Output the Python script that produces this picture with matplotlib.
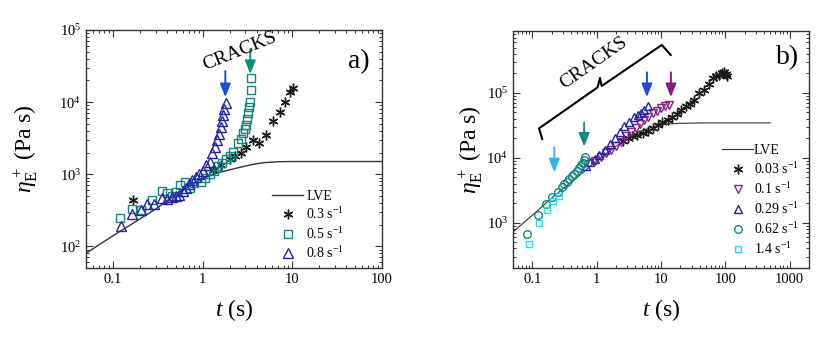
# Extensional viscosity growth, two panels with LVE envelope
import matplotlib.pyplot as plt

plt.rcParams['font.family'] = 'serif'
plt.rcParams['font.serif'] = ['Liberation Serif']
plt.rcParams['mathtext.fontset'] = 'custom'
plt.rcParams['mathtext.rm'] = 'Liberation Serif'
plt.rcParams['mathtext.it'] = 'Liberation Serif:italic'
plt.rcParams['mathtext.bf'] = 'Liberation Serif:bold'
plt.rcParams['mathtext.fallback'] = 'stix'

# ---- panel a data
lve_t_a = [0.05, 0.1, 0.2, 0.3, 0.5, 0.7, 1, 1.5, 2, 3, 4, 5, 7, 10, 100]
lve_eta_a = [80, 140, 240, 330, 520, 680, 880, 1050, 1150, 1300, 1400, 1450, 1490, 1500, 1500]

t_03 = [0.167, 1.3, 1.6, 2.0, 2.3, 2.7, 3.08, 3.65, 4.3, 5.15, 6.1, 7.25, 8.3, 9.4, 10.2]
eta_03 = [445, 1150, 1350, 1600, 1800, 2000, 2350, 2960, 2670, 3550, 5400, 7330, 10000, 14000, 15500]

t_05 = [0.119, 0.161, 0.203, 0.274, 0.354, 0.396, 0.45, 0.5, 0.56, 0.63, 0.716, 0.8, 0.95,
        1.05, 1.2, 1.35, 1.5, 1.65, 1.8, 2.0, 2.2, 2.48, 2.65, 2.82, 2.95, 3.02, 3.1, 3.2,
        3.28, 3.35, 3.42, 3.5]
eta_05 = [250, 330, 316, 445, 580, 557, 500, 560, 700, 782, 653, 760, 782,
          880, 1000, 1100, 1300, 1450, 1600, 1800, 2050, 2670, 3100, 3680, 4200, 4800, 5800, 6950,
          8500, 10100, 14700, 21300]

t_08 = [0.123, 0.164, 0.203, 0.241, 0.29, 0.354, 0.4, 0.45, 0.5, 0.544, 0.6, 0.646, 0.7, 0.767,
        0.84, 0.91, 1.0, 1.08, 1.2, 1.28, 1.37, 1.46, 1.53, 1.59, 1.65, 1.69, 1.75, 1.81]
eta_08 = [189, 284, 316, 392, 392, 475, 460, 480, 500, 510, 580, 653, 730, 825,
          920, 1020, 1100, 1330, 1500, 1940, 2400, 2960, 3600, 4540, 5500, 6600, 8000, 9800]

# crack onset arrows: (t, eta top, eta tip, colour)
cracks_a = [(1.79, 27000, 11700, '#1a4fd8'), (3.4, 54500, 24500, '#138a82')]

# ---- panel b data
lve_t_b = [0.05, 0.1, 0.2, 0.5, 1, 2, 3, 5, 8, 12, 20, 50, 500]
lve_eta_b = [720, 1300, 2400, 5000, 9000, 15000, 20000, 26000, 30500, 33000, 34000, 34500, 34500]

t_003 = [2.6, 3.05, 3.6, 4.3, 5.2, 6.2, 7.46, 9, 10.5, 12.7, 15, 17.5, 20.5, 24.5, 28, 33,
         39.4, 47, 55, 63.5, 72, 80, 88, 96, 102, 108]
eta_003 = [18000, 20200, 21500, 22500, 24000, 26000, 29000, 32000, 35000, 38400, 43000, 48000,
           54600, 62000, 68000, 77800, 100000, 110000, 135000, 167000, 180000, 190000, 200000,
           210000, 195000, 180000]

t_01 = [0.95, 1.15, 1.41, 1.7, 2.02, 2.4, 2.89, 3.4, 4.12, 4.8, 5.54, 6.4, 7.46, 8.7, 10.1, 11.7, 13.5]
eta_01 = [9000, 10200, 11900, 13300, 15000, 17800, 21400, 25000, 28700, 33500, 38400, 43000,
          48600, 53000, 58000, 62000, 65000]

t_029 = [0.69, 0.8, 0.93, 1.1, 1.33, 1.6, 1.9, 2.3, 2.7, 3.2, 3.88, 4.4, 4.93, 5.5, 6.25]
eta_029 = [7440, 8500, 9650, 11000, 13400, 16500, 20200, 25000, 30400, 36000, 43200, 45000,
           48600, 55000, 63000]

t_062 = [0.083, 0.122, 0.164, 0.203, 0.249, 0.285, 0.316, 0.345, 0.377, 0.41, 0.45, 0.49,
         0.54, 0.575, 0.607, 0.64, 0.668]
eta_062 = [660, 1290, 1910, 2500, 2990, 3500, 3910, 4300, 4780, 5150, 5560, 6300, 7040, 7700,
           8390, 9300, 10300]

t_14 = [0.088, 0.129, 0.17, 0.213, 0.258]
eta_14 = [464, 991, 1580, 2180, 2590]

cracks_b = [(0.22, 14400, 5970, '#2ab4ef'), (0.64, 34600, 14900, '#128a80'),
            (6.06, 208000, 86000, '#1a4fd8'), (14.3, 208000, 86000, '#8a1c8a')]

BLACK = '#1a1a1a'
TEAL = '#17857f'
BLUE = '#2222aa'
PURPLE = '#8b1f8b'
CYAN = '#22e0ee'

fig = plt.figure(figsize=(8.3, 3.39), dpi=100)
ax1 = fig.add_axes([0.1036, 0.2094, 0.3566, 0.7021])
ax2 = fig.add_axes([0.618, 0.2094, 0.3566, 0.6992])


def style_axes(ax, ypad):
    ax.set_xscale('log')
    ax.set_yscale('log')
    ax.tick_params(which='both', direction='in', top=True, right=True, labelsize=10.5,
                   color='#333333')
    ax.tick_params(which='major', length=5, width=0.8)
    ax.tick_params(which='minor', length=2.5, width=0.7)
    for s in ax.spines.values():
        s.set_linewidth(1.0)
        s.set_color('#333333')
    ax.set_xlabel(r'$t$ (s)', fontsize=17, labelpad=8)
    ax.set_ylabel(r'$\eta^+_{\rm E}$ (Pa s)', fontsize=17, labelpad=ypad)


def draw_arrows(ax, cracks):
    for t, top, tip, c in cracks:
        ax.annotate('', xy=(t, tip), xytext=(t, top),
                    arrowprops=dict(arrowstyle='-|>,head_width=0.32,head_length=0.8',
                                    color=c, lw=1.4, shrinkA=0, shrinkB=0))


mk = dict(linestyle='none', markerfacecolor='none', markeredgewidth=1.0)

# panel a
style_axes(ax1, 14)
ax1.plot(lve_t_a, lve_eta_a, color='#333333', lw=1.0, label='LVE')
ax1.plot(t_03, eta_03, marker=(6, 2, 0), ms=7, color=BLACK, label=r'0.3 s$^{-1}$', **mk)
ax1.plot(t_05, eta_05, marker='s', ms=5.5, color=TEAL, label=r'0.5 s$^{-1}$', **mk)
ax1.plot(t_08, eta_08, marker='^', ms=6.5, color=BLUE, label=r'0.8 s$^{-1}$', **mk)
ax1.set_xlim(0.05, 100)
ax1.set_ylim(50, 1e5)
ax1.set_xticks([0.1, 1, 10, 100])
ax1.set_xticklabels(['0.1', '1', '10', '100'])
draw_arrows(ax1, cracks_a)
ax1.text(0.52, 0.912, 'CRACKS', transform=ax1.transAxes, fontsize=14, rotation=22,
         ha='center', va='center', rotation_mode='anchor')
ax1.text(0.922, 0.866, 'a)', transform=ax1.transAxes, fontsize=20, ha='center', va='center')
ax1.legend(loc='lower left', bbox_to_anchor=(0.63, 0.03), frameon=False, fontsize=10,
           handlelength=2.2, handletextpad=0.25, labelspacing=0.25, borderpad=0,
           borderaxespad=0)

# panel b
style_axes(ax2, 1)
ax2.plot(lve_t_b, lve_eta_b, color='#333333', lw=0.8, label='LVE')
ax2.plot(t_003, eta_003, marker=(6, 2, 0), ms=7, color=BLACK, label=r'0.03 s$^{-1}$', **mk)
ax2.plot(t_01, eta_01, marker='v', ms=6, color=PURPLE, label=r'0.1 s$^{-1}$', **mk)
ax2.plot(t_029, eta_029, marker='^', ms=6, color=BLUE, label=r'0.29 s$^{-1}$', **mk)
ax2.plot(t_062, eta_062, marker='o', ms=5.5, color=TEAL, label=r'0.62 s$^{-1}$', **mk)
ax2.plot(t_14, eta_14, marker='s', ms=5, color=CYAN, label=r'1.4 s$^{-1}$', **mk)
ax2.set_xlim(0.05, 2000)
ax2.set_ylim(200, 9e5)
ax2.set_xticks([0.1, 1, 10, 100, 1000])
ax2.set_xticklabels(['0.1', '1', '10', '100', '1000'])
ax2.set_yticks([1e3, 1e4, 1e5])
draw_arrows(ax2, cracks_b)

# bracket over the crack arrows
brace_x = [0.099, 0.088, 0.286, 0.294, 0.300, 0.503, 0.533]
brace_y = [0.544, 0.589, 0.762, 0.800, 0.768, 0.941, 0.899]
ax2.plot(brace_x[:4], brace_y[:4], color='black', lw=1.5, transform=ax2.transAxes)
ax2.plot(brace_x[3:], brace_y[3:], color='black', lw=1.5, transform=ax2.transAxes)
ax2.text(0.274, 0.866, 'CRACKS', transform=ax2.transAxes, fontsize=14, rotation=35,
         ha='center', va='center', rotation_mode='anchor')
ax2.text(0.928, 0.886, 'b)', transform=ax2.transAxes, fontsize=20, ha='center', va='center')
ax2.legend(loc='lower left', bbox_to_anchor=(0.706, 0.045), frameon=False, fontsize=10,
           handlelength=2.25, handletextpad=0.05, labelspacing=0.3, borderpad=0,
           borderaxespad=0)

fig.savefig('out.png', dpi=100)
